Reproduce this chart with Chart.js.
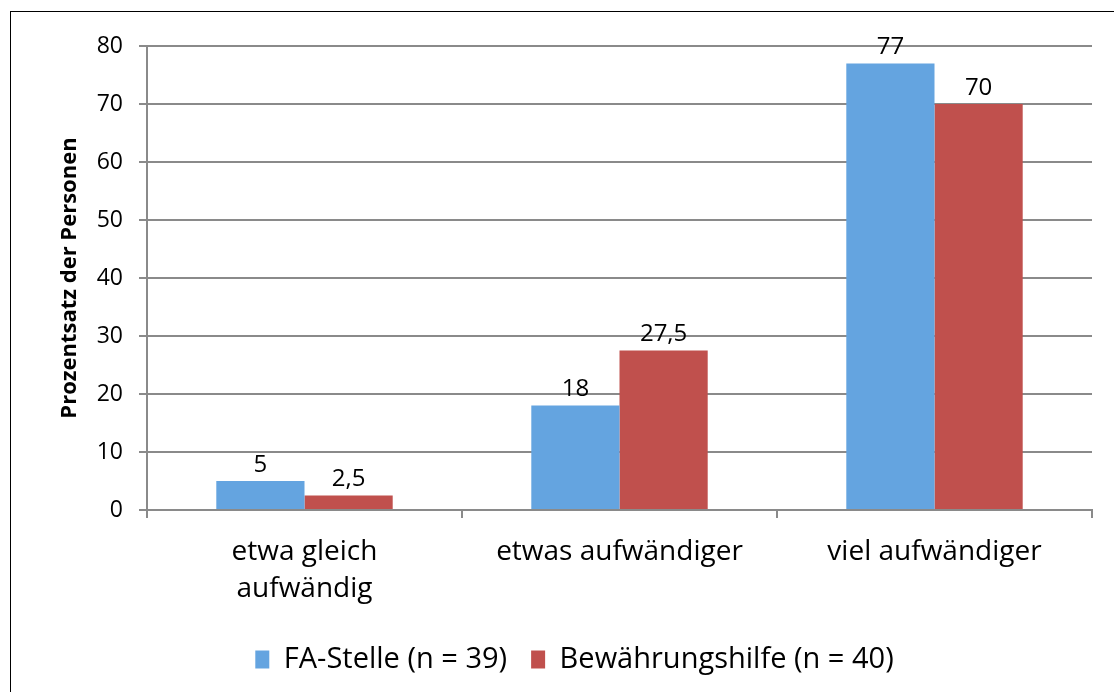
<!DOCTYPE html>
<html>
<head>
<meta charset="utf-8">
<script src="https://cdn.jsdelivr.net/npm/chart.js@4.4.1/dist/chart.umd.min.js"></script>
<style>
    html, body { margin: 0; padding: 0; background: #fff; }
    #wrap { position: relative; width: 1114px; height: 692px; overflow: hidden; }
    #frame {
        position: absolute; left: 10px; top: 11px; width: 1110px; height: 700px;
        border-left: 1px solid #000; border-top: 1px solid #000;
    }
    canvas { position: absolute; left: 0; top: 0; }
</style>
</head>
<body>
<div id="wrap">
    <div id="frame"></div>
    <canvas id="chart" width="1114" height="692"></canvas>
</div>
<script>
/* ============================================================
   DATA
============================================================ */
const categories = [["etwa gleich", "aufwändig"], "etwas aufwändiger", "viel aufwändiger"];
const faStelle = [5, 18, 77];
const bewaehrungshilfe = [2.5, 27.5, 70];
const seriesNames = ["FA-Stelle (n = 39)", "Bewährungshilfe (n = 40)"];
const yTicks = [0, 10, 20, 30, 40, 50, 60, 70, 80];

const FONT = "'Open Sans', 'DejaVu Sans', sans-serif";
const GRID = "#8a8a8a";

/* value labels above bars, German decimal comma */
const valueLabels = {
    id: "valueLabels",
    afterDatasetsDraw(chart) {
        const ctx = chart.ctx;
        ctx.save();
        ctx.font = "24px " + FONT;
        ctx.fillStyle = "#000";
        ctx.textAlign = "center";
        ctx.textBaseline = "bottom";
        chart.data.datasets.forEach((ds, i) => {
            const meta = chart.getDatasetMeta(i);
            meta.data.forEach((bar, j) => {
                const txt = String(ds.data[j]).replace(".", ",");
                ctx.fillText(txt, bar.x, bar.y - 4);
            });
        });
        ctx.restore();
    }
};

new Chart(document.getElementById("chart"), {
    type: "bar",
    data: {
        labels: categories,
        datasets: [
            {
                label: seriesNames[0],
                data: faStelle,
                backgroundColor: "#64a4e0",
                categoryPercentage: 0.56,
                barPercentage: 1.0
            },
            {
                label: seriesNames[1],
                data: bewaehrungshilfe,
                backgroundColor: "#c0504d",
                categoryPercentage: 0.56,
                barPercentage: 1.0
            }
        ]
    },
    options: {
        responsive: false,
        animation: false,
        layout: { padding: { top: 46, right: 22, left: 57, bottom: 8 } },
        plugins: {
            tooltip: { enabled: false },
            legend: {
                position: "bottom",
                labels: {
                    color: "#000",
                    font: { family: FONT, size: 29 },
                    boxWidth: 14,
                    boxHeight: 18,
                    padding: 24
                }
            }
        },
        scales: {
            x: {
                afterFit(scale) { scale.height = 111; },
                grid: {
                    offset: true,
                    drawOnChartArea: false,
                    tickLength: 8,
                    color: GRID,
                    lineWidth: 2
                },
                border: { color: GRID, width: 2 },
                ticks: {
                    color: "#000",
                    font: { family: FONT, size: 28, lineHeight: 1.3 },
                    padding: 16,
                    maxRotation: 0
                }
            },
            y: {
                min: 0,
                max: 80,
                afterFit(scale) { scale.width = 90; },
                afterBuildTicks(scale) { scale.ticks = yTicks.map(v => ({ value: v })); },
                grid: { color: GRID, lineWidth: 2, tickLength: 8 },
                border: { color: GRID, width: 2 },
                ticks: {
                    color: "#000",
                    font: { family: FONT, size: 23 },
                    padding: 16
                },
                title: {
                    display: true,
                    text: "Prozentsatz der Personen",
                    color: "#000",
                    font: { family: FONT, size: 22, weight: "bold" },
                    padding: { top: 0, bottom: 0 }
                }
            }
        }
    },
    plugins: [valueLabels]
});
</script>
</body>
</html>
